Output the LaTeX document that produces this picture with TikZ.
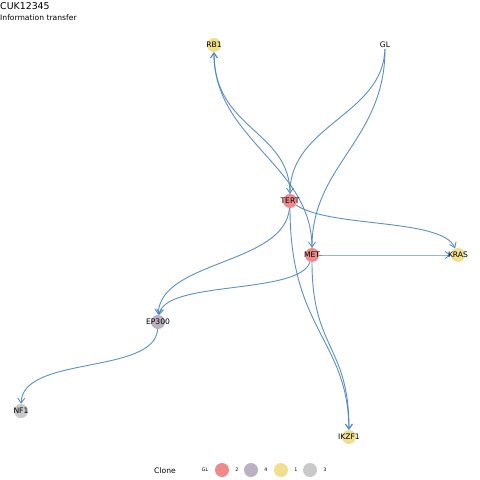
\documentclass[tikz,border=0pt]{standalone}
\usepackage{fontspec}
\setmainfont{DejaVu Sans}
\usetikzlibrary{arrows.meta}
\definecolor{edgec}{HTML}{4A85BF}
\definecolor{cred}{HTML}{EF8A8A}
\definecolor{cpur}{HTML}{BAB2C2}
\definecolor{cyel}{HTML}{F0E08E}
\definecolor{cgry}{HTML}{C9C9C9}
\tikzset{
  clonedot/.style={circle,minimum size=14pt,inner sep=0pt,draw=none},
  lbl/.style={font=\fontsize{7.6}{8}\selectfont,inner sep=0pt},
  edge/.style={draw=edgec,line width=0.9pt,opacity=0.9,-{Straight Barb[length=5pt,width=7pt]}},
  legdot/.style={circle,minimum size=14pt,inner sep=0pt},
  leglbl/.style={font=\fontsize{4.8}{5}\selectfont,inner sep=0pt},
}
\begin{document}
\begin{tikzpicture}[x=1pt,y=-1pt]
\useasboundingbox[fill=white] (0,0) rectangle (480,480);
% title
\node[anchor=north west,inner sep=0pt,font=\fontsize{9.4}{10}\selectfont] (title) at (0,2) {CUK12345};
\node[anchor=north west,inner sep=0pt,font=\fontsize{7.6}{8}\selectfont] (subtitle) at (0,15) {Information transfer};
% nodes
\node[clonedot,fill=cyel] (rb1) at (214,45) {};
\node[inner sep=0pt,minimum size=8pt] (gl) at (385,45) {};
\node[clonedot,fill=cred] (tert) at (290,201) {};
\node[clonedot,fill=cred] (met) at (312,255) {};
\node[clonedot,fill=cyel] (kras) at (458,255) {};
\node[clonedot,fill=cpur] (ep300) at (158,322) {};
\node[clonedot,fill=cgry] (nf1) at (21,411) {};
\node[clonedot,fill=cyel] (ikzf1) at (349,437) {};
% edges
\draw[edge] (gl) .. controls (383,115) and (290,125) .. (tert);
\draw[edge] (gl) .. controls (385,140) and (312,165) .. (met);
\draw[edge] (tert) .. controls (290,130) and (214,130) .. (rb1);
\draw[edge] (met) .. controls (312,165) and (214,140) .. (rb1);
\draw[edge] (tert) .. controls (330,228) and (442,218) .. (kras);
\draw[edge] (met) .. controls (380,255) and (400,255) .. (kras);
\draw[edge] (tert) .. controls (285,265) and (160,260) .. (ep300);
\draw[edge] (met) .. controls (300,295) and (165,280) .. (ep300);
\draw[edge] (tert) .. controls (290,330) and (348,340) .. (ikzf1);
\draw[edge] (met) .. controls (312,350) and (349,345) .. (ikzf1);
\draw[edge] (ep300) .. controls (155,375) and (22,355) .. (nf1);
% labels
\node[lbl] (rb1l) at (rb1) {RB1};
\node[lbl] (gll) at (gl) {GL};
\node[lbl] (tertl) at (tert) {TERT};
\node[lbl] (metl) at (met) {MET};
\node[lbl] (krasl) at (kras) {KRAS};
\node[lbl] (ep300l) at (ep300) {EP300};
\node[lbl] (nf1l) at (nf1) {NF1};
\node[lbl] (ikzf1l) at (ikzf1) {IKZF1};
% legend
\node[anchor=west,inner sep=0pt,font=\fontsize{7.6}{8}\selectfont] (legt) at (154,471) {Clone};
\node[leglbl] (lg0) at (205,470) {GL};
\node[legdot,fill=cred] (lk1) at (222,470) {};
\node[leglbl] (lg1) at (237,470) {2};
\node[legdot,fill=cpur] (lk2) at (251,470) {};
\node[leglbl] (lg2) at (266,470) {4};
\node[legdot,fill=cyel] (lk3) at (281,470) {};
\node[leglbl] (lg3) at (296,470) {1};
\node[legdot,fill=cgry] (lk4) at (310,470) {};
\node[leglbl] (lg4) at (325,470) {3};
\end{tikzpicture}
\end{document}
